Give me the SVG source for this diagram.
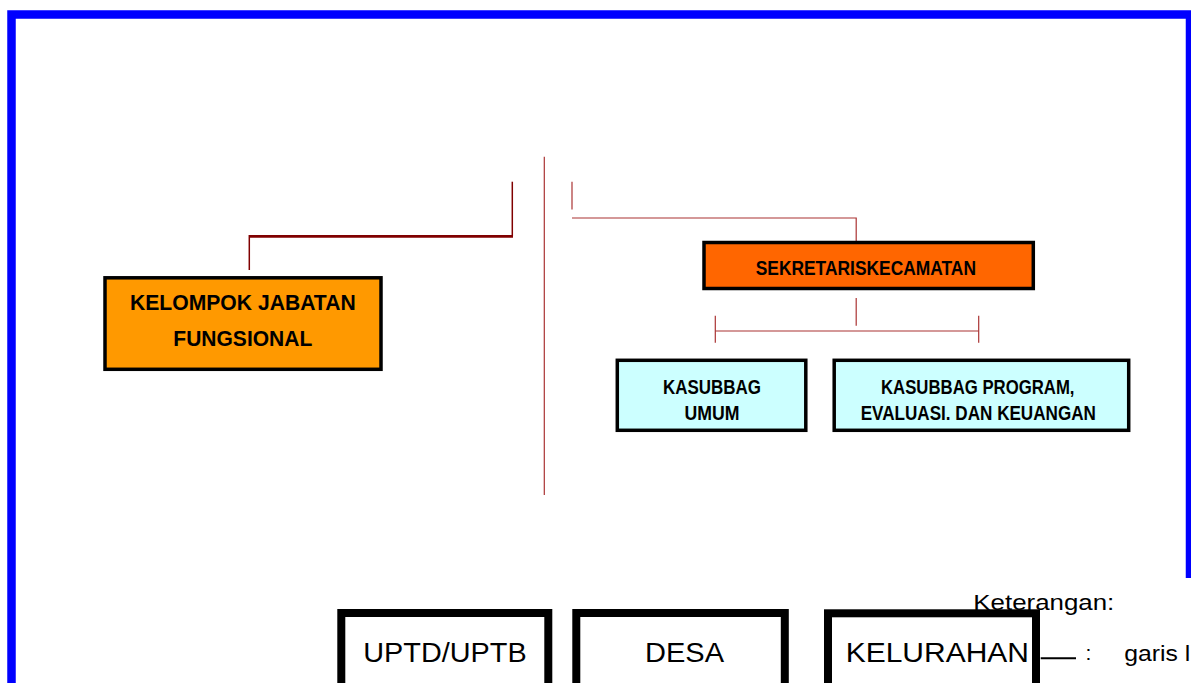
<svg xmlns="http://www.w3.org/2000/svg" width="1191" height="683" viewBox="0 0 1191 683">
<style>
.ln{stroke:#800000;fill:none}
.lt{stroke:#A33;fill:none;stroke-width:1.2}
.bx{stroke:#000;stroke-width:3.5}
.bb{font-family:"Liberation Sans",Arial,sans-serif;font-weight:bold;text-anchor:start;fill:#000}
.bt{fill:#fff;stroke:#000;stroke-width:8}
.rg{font-family:"Liberation Sans",Arial,sans-serif;fill:#000}
</style>
<rect width="1191" height="683" fill="#fff"/>
<path d="M11.5 690 V14.5 H1190 V578" fill="none" stroke="#0000FF" stroke-width="8.5"/>
<g id="connectors">
<line class="ln" x1="512.3" y1="181.7" x2="512.3" y2="236" stroke-width="1.5"/>
<line class="ln" x1="249" y1="236.3" x2="513" y2="236.3" stroke-width="2.7"/>
<line class="ln" x1="249.3" y1="235" x2="249.3" y2="270" stroke-width="1.5"/>
<line class="lt" x1="544.3" y1="156.7" x2="544.3" y2="495"/>
<line class="lt" x1="572" y1="181.7" x2="572" y2="209.5"/>
<polyline class="lt" points="572,218 856.2,218 856.2,241"/>
<line class="lt" x1="856.2" y1="298" x2="856.2" y2="325.7"/>
<line class="lt" x1="715.3" y1="331" x2="978.7" y2="331"/>
<line class="lt" x1="715.3" y1="315.7" x2="715.3" y2="342.7"/>
<line class="lt" x1="978.7" y1="315.7" x2="978.7" y2="342.7"/>
</g>
<g id="kelompok">
<rect class="bx" x="105" y="277.8" width="276" height="91.5" fill="#FF9900"/>
<text class="bb" x="130" y="309.5" font-size="21.5" textLength="225.7" lengthAdjust="spacingAndGlyphs">KELOMPOK JABATAN</text>
<text class="bb" x="173.3" y="346" font-size="21.5" textLength="139" lengthAdjust="spacingAndGlyphs">FUNGSIONAL</text>
</g>
<g id="sekretaris">
<rect class="bx" x="704" y="242.5" width="329.3" height="46" fill="#FF6600"/>
<text class="bb" x="755.7" y="274.5" font-size="20.5" textLength="220.3" lengthAdjust="spacingAndGlyphs">SEKRETARISKECAMATAN</text>
</g>
<g id="kasubbag-umum">
<rect class="bx" x="617.3" y="360.3" width="188.5" height="70" fill="#CCFFFF"/>
<text class="bb" x="663" y="393.5" font-size="20.5" textLength="98" lengthAdjust="spacingAndGlyphs">KASUBBAG</text>
<text class="bb" x="684.4" y="419.5" font-size="20.5" textLength="55" lengthAdjust="spacingAndGlyphs">UMUM</text>
</g>
<g id="kasubbag-program">
<rect class="bx" x="834.2" y="360.3" width="294.5" height="70" fill="#CCFFFF"/>
<text class="bb" x="881" y="393.5" font-size="20.5" textLength="193.5" lengthAdjust="spacingAndGlyphs">KASUBBAG PROGRAM,</text>
<text class="bb" x="860.7" y="419.5" font-size="20.5" textLength="235.2" lengthAdjust="spacingAndGlyphs">EVALUASI. DAN KEUANGAN</text>
</g>
<g id="uptd">
<rect class="bt" x="341.3" y="613" width="207" height="100"/>
<text class="rg" x="363.3" y="661.5" font-size="27" textLength="163.4" lengthAdjust="spacingAndGlyphs">UPTD/UPTB</text>
</g>
<g id="desa">
<rect class="bt" x="576.3" y="613" width="208.5" height="100"/>
<text class="rg" x="645" y="661.5" font-size="27" textLength="79" lengthAdjust="spacingAndGlyphs">DESA</text>
</g>
<g id="kelurahan">
<rect class="bt" x="828" y="613.3" width="208" height="100"/>
<text class="rg" x="845.7" y="661.5" font-size="27" textLength="183.3" lengthAdjust="spacingAndGlyphs">KELURAHAN</text>
</g>
<g id="keterangan">
<text class="rg" x="973.3" y="609.5" font-size="21.5" textLength="141" lengthAdjust="spacingAndGlyphs">Keterangan:</text>
<line x1="1040.7" y1="658.3" x2="1076" y2="658.3" stroke="#000" stroke-width="2"/>
<text class="rg" x="1085.5" y="660" font-size="21">:</text>
<text class="rg" x="1124.3" y="660.5" font-size="21.5" textLength="66" lengthAdjust="spacingAndGlyphs">garis l</text>
</g>
</svg>
